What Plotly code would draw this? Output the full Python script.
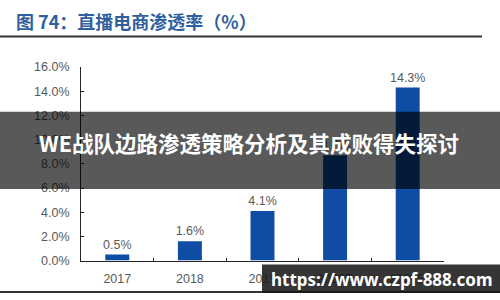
import plotly.graph_objects as go

categories = ["2017", "2018", "2019", "2020E", "2021E"]
values = [0.5, 1.6, 4.1, 8.7, 14.3]
value_labels = ["0.5%", "1.6%", "4.1%", "8.7%", "14.3%"]
y_ticks = [0, 2, 4, 6, 8, 10, 12, 14, 16]
y_tick_labels = [f"{v:.1f}%" for v in y_ticks]

title_text = "图 74：直播电商渗透率（%）"
overlay_text = "WE战队边路渗透策略分析及其成败得失探讨"
watermark_text = "https://www.czpf-888.com"

W, H = 500, 300

def py(pix):
    return (H - pix) / H

def px(pix):
    return pix / W

fig = go.Figure()
fig.add_trace(go.Bar(
    x=categories, y=values,
    marker=dict(color="#0f4ca4", line=dict(width=0)),
    width=0.33,
    text=value_labels, textposition="outside", cliponaxis=False,
    constraintext="none",
    textfont=dict(family="Liberation Sans, Arial", size=12.5, color="#595959"),
))

fig.update_layout(
    width=W, height=H,
    margin=dict(l=0, r=0, t=0, b=0),
    paper_bgcolor="white", plot_bgcolor="white",
    showlegend=False,
    xaxis=dict(
        domain=[px(81), px(444)],
        showline=True, linecolor="#262626", linewidth=1,
        ticks="inside", tickson="boundaries", ticklen=3, tickcolor="#262626",
        ticklabelstandoff=6,
        tickfont=dict(family="Liberation Sans, Arial", size=12.5, color="#595959"),
        showgrid=False, zeroline=False,
    ),
    yaxis=dict(
        domain=[py(266), py(63)],
        range=[0, 16],
        tickvals=y_ticks, ticktext=y_tick_labels,
        showline=True, linecolor="#262626", linewidth=1,
        ticks="inside", ticklen=3, tickcolor="#262626",
        ticklabelstandoff=8,
        tickfont=dict(family="Liberation Sans, Arial", size=12.5, color="#595959"),
        showgrid=False, zeroline=False,
    ),
)

shapes = [
    dict(type="line", xref="paper", yref="paper", x0=0, x1=px(482), y0=py(31), y1=py(31),
         line=dict(color="#333333", width=2), layer="above"),
    dict(type="line", xref="paper", yref="paper", x0=0, x1=1, y0=py(299), y1=py(299),
         line=dict(color="#333333", width=2), layer="above"),
    dict(type="rect", xref="paper", yref="paper", x0=0, x1=1, y0=py(191), y1=py(110),
         fillcolor="rgba(0,0,0,0.65)", line=dict(width=0), layer="above"),
    dict(type="rect", xref="paper", yref="paper", x0=px(262), x1=1, y0=0, y1=py(270),
         fillcolor="rgba(25,25,25,0.88)", line=dict(width=0), layer="above"),
]
fig.update_layout(shapes=shapes)

fig.add_annotation(
    text=f"<b>{title_text}</b>", xref="paper", yref="paper",
    x=px(14), y=py(15), xanchor="left", yanchor="middle", showarrow=False,
    font=dict(family="Noto Sans CJK SC", size=18, color="#2f5f9e"),
)
fig.add_annotation(
    text=f"<b>{overlay_text}</b>", xref="paper", yref="paper",
    x=px(249), y=py(142), xanchor="center", yanchor="middle", showarrow=False,
    font=dict(family="Noto Sans CJK SC", size=21.5, color="white"),
)
fig.add_annotation(
    text=f"<b>{watermark_text}</b>", xref="paper", yref="paper",
    x=px(382), y=py(286), xanchor="center", yanchor="middle", showarrow=False,
    font=dict(family="Noto Sans, DejaVu Sans", size=17, color="white"),
)

fig.write_html("out.html")
